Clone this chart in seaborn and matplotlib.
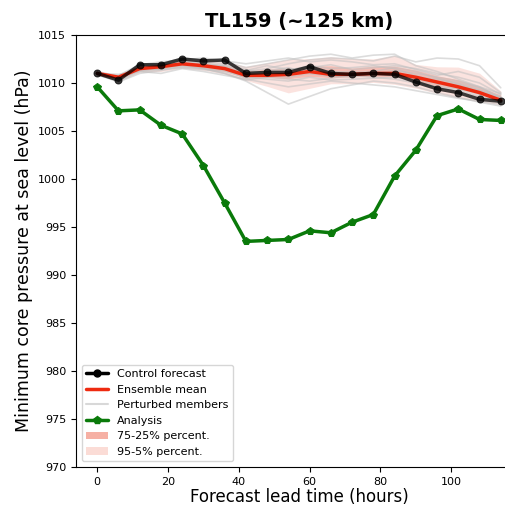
import numpy as np
import pandas as pd
import matplotlib
matplotlib.use('Agg')
import matplotlib.pyplot as plt
import seaborn as sns
from matplotlib.lines import Line2D
from matplotlib.patches import Patch

# lead times (hours)
lead_time = list(range(0, 115, 6))

# analysis (observed) core pressure
analysis = [1009.6, 1007.1, 1007.2, 1005.6, 1004.7, 1001.4, 997.5, 993.5, 993.6, 993.7,
            994.6, 994.4, 995.5, 996.3, 1000.3, 1003.0, 1006.6, 1007.3, 1006.2, 1006.1]

# control forecast
control = [1011.0, 1010.3, 1011.9, 1011.9, 1012.5, 1012.3, 1012.4, 1011.0, 1011.1, 1011.1,
           1011.7, 1011.0, 1010.9, 1011.0, 1010.9, 1010.1, 1009.4, 1009.0, 1008.3, 1008.1]

# ensemble mean
ens_mean = [1011.0, 1010.6, 1011.5, 1011.7, 1012.0, 1011.8, 1011.5, 1010.8, 1010.8, 1010.9,
            1011.2, 1010.9, 1010.9, 1011.0, 1011.0, 1010.6, 1010.1, 1009.6, 1009.0, 1008.2]

# perturbed members
m01 = [1011.0, 1010.6, 1011.6, 1011.8, 1012.2, 1012.0, 1011.8, 1011.2, 1011.5, 1012.0,
       1012.4, 1012.6, 1012.5, 1012.3, 1012.8, 1012.2, 1012.6, 1012.5, 1011.8, 1009.5]
m02 = [1011.1, 1010.4, 1011.3, 1011.5, 1011.8, 1011.5, 1011.0, 1010.2, 1009.0, 1007.8,
       1008.6, 1009.4, 1009.8, 1010.2, 1010.0, 1009.6, 1009.0, 1008.5, 1008.0, 1007.6]
m03 = [1010.9, 1010.8, 1011.9, 1012.0, 1012.6, 1012.4, 1012.2, 1011.6, 1012.0, 1012.4,
       1012.8, 1013.0, 1012.6, 1012.9, 1013.0, 1011.8, 1011.2, 1010.4, 1009.6, 1008.4]
m04 = [1011.0, 1010.2, 1011.2, 1011.4, 1011.6, 1011.4, 1011.2, 1010.6, 1010.4, 1010.2,
       1010.6, 1010.3, 1010.4, 1010.5, 1010.6, 1010.2, 1009.6, 1009.2, 1008.6, 1008.0]
m05 = [1011.2, 1010.7, 1011.8, 1012.0, 1012.4, 1012.1, 1011.7, 1011.0, 1011.2, 1011.4,
       1011.6, 1011.2, 1011.0, 1011.2, 1011.1, 1010.6, 1010.4, 1010.0, 1009.5, 1008.6]
m06 = [1010.8, 1010.3, 1011.4, 1011.6, 1011.9, 1011.9, 1011.4, 1010.5, 1010.8, 1010.6,
       1011.0, 1010.7, 1010.8, 1010.6, 1010.4, 1010.0, 1009.6, 1009.4, 1009.0, 1008.2]
m07 = [1011.0, 1010.5, 1011.5, 1011.9, 1012.3, 1012.2, 1012.0, 1011.4, 1011.0, 1011.3,
       1011.8, 1011.5, 1011.6, 1011.8, 1011.5, 1010.8, 1010.2, 1009.8, 1009.3, 1008.4]
m08 = [1011.1, 1010.6, 1011.7, 1011.7, 1011.9, 1011.6, 1011.3, 1010.8, 1010.9, 1011.0,
       1011.2, 1010.9, 1011.0, 1011.0, 1011.3, 1011.0, 1010.6, 1010.2, 1009.6, 1008.9]
m09 = [1010.9, 1010.5, 1011.4, 1011.5, 1012.0, 1011.7, 1011.5, 1010.9, 1011.3, 1011.6,
       1011.0, 1010.8, 1010.6, 1011.0, 1011.2, 1010.4, 1009.9, 1009.6, 1009.2, 1008.3]
m10 = [1011.0, 1010.4, 1011.5, 1011.8, 1012.1, 1011.8, 1011.6, 1011.0, 1010.6, 1010.9,
       1011.4, 1011.1, 1011.2, 1011.0, 1010.9, 1010.6, 1010.0, 1009.4, 1008.8, 1007.9]
m11 = [1011.0, 1010.9, 1011.2, 1011.0, 1011.5, 1011.2, 1010.8, 1010.4, 1010.0, 1009.6,
       1009.9, 1010.2, 1010.0, 1009.8, 1009.6, 1009.2, 1008.8, 1008.4, 1008.1, 1007.8]
m12 = [1011.1, 1010.5, 1011.9, 1012.2, 1012.4, 1012.6, 1012.3, 1012.0, 1012.3, 1012.6,
       1012.2, 1012.4, 1012.2, 1011.9, 1012.0, 1011.4, 1010.8, 1011.2, 1010.6, 1009.0]
m13 = [1010.9, 1010.1, 1011.0, 1011.3, 1011.7, 1011.5, 1011.0, 1010.3, 1010.6, 1010.4,
       1010.2, 1010.5, 1010.8, 1011.2, 1011.6, 1011.2, 1010.5, 1009.9, 1009.2, 1008.5]
m14 = [1011.0, 1010.7, 1011.7, 1012.1, 1012.0, 1011.6, 1011.9, 1011.3, 1011.8, 1011.4,
       1011.6, 1011.9, 1011.4, 1011.6, 1011.8, 1011.5, 1011.0, 1010.6, 1010.0, 1008.8]
members = [m01, m02, m03, m04, m05, m06, m07, m08, m09, m10, m11, m12, m13, m14]

sns.set_style('ticks')
plt.rcParams['font.family'] = ['DejaVu Sans']
plt.rcParams['text.color'] = 'black'
plt.rcParams['axes.labelcolor'] = 'black'
plt.rcParams['xtick.color'] = 'black'
plt.rcParams['ytick.color'] = 'black'
plt.rcParams['axes.edgecolor'] = 'black'

fig = plt.figure(figsize=(5.05, 5.07), dpi=100)
ax = fig.add_axes([76 / 505, 40 / 507, 446 / 505, 432 / 507])

# percentiles across the members
arr = np.array(members)
p05, p25, p75, p95 = np.percentile(arr, [5, 25, 75, 95], axis=0)

# perturbed members
mem_df = pd.DataFrame(arr.T, index=lead_time)
mem_df.index.name = 'lead'
mem_long = mem_df.reset_index().melt(id_vars='lead', var_name='member', value_name='p')
sns.lineplot(data=mem_long, x='lead', y='p', units='member', estimator=None,
             color='#c0c0c0', alpha=0.55, lw=1.2, ax=ax, legend=False)

ax.fill_between(lead_time, p05, p95, color='#f8c8c0', alpha=0.5, lw=0)
ax.fill_between(lead_time, p25, p75, color='#f09080', alpha=0.45, lw=0)

sns.lineplot(x=lead_time, y=ens_mean, color='#ee2a10', lw=2.5, ax=ax)
sns.lineplot(x=lead_time, y=control, color='black', marker='o', markersize=5,
             lw=2.5, alpha=0.75, markeredgecolor='black', ax=ax)
sns.lineplot(x=lead_time, y=analysis, color='#0a7a0a', marker='p', markersize=6,
             lw=2.5, markeredgecolor='#0a7a0a', ax=ax)

handles = [
    Line2D([], [], color='black', marker='o', markersize=5, lw=2.5),
    Line2D([], [], color='#ee2a10', lw=2.5),
    Line2D([], [], color='#d8d8d8', lw=1.5),
    Line2D([], [], color='#0a7a0a', marker='p', markersize=6, lw=2.5),
    Patch(facecolor='#f6b0a4', edgecolor='none'),
    Patch(facecolor='#fbdcd6', edgecolor='none'),
]
labels = ['Control forecast', 'Ensemble mean', 'Perturbed members', 'Analysis',
          '75-25% percent.', '95-5% percent.']
ax.legend(handles, labels, loc='lower left', fontsize=8, frameon=True)

ax.set_xlim(-6, 120)
ax.set_ylim(970, 1015)
ax.set_xticks([0, 20, 40, 60, 80, 100])
ax.set_yticks(range(970, 1016, 5))
ax.tick_params(labelsize=8)
ax.set_xlabel('Forecast lead time (hours)', fontsize=12, labelpad=1)
ax.set_ylabel('Minimum core pressure at sea level (hPa)', fontsize=12.5)
ax.set_title('TL159 (~125 km)', fontsize=14, fontweight='bold')

fig.savefig('out.png', dpi=100)
